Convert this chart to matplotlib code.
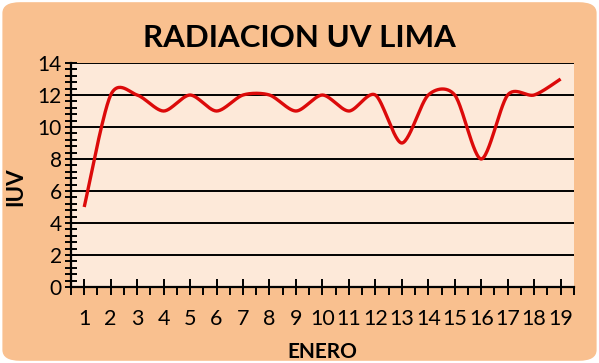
import matplotlib
matplotlib.use("Agg")
import matplotlib.pyplot as plt
import numpy as np
from matplotlib.patches import FancyBboxPatch
from matplotlib.ticker import MultipleLocator

days = list(range(1, 20))
uv_index = [5, 12, 12, 11, 12, 11, 12, 12, 11, 12, 11, 12, 9, 12, 12, 8, 12, 12, 13]
y_ticks = [0, 2, 4, 6, 8, 10, 12, 14]

OUTER = "#F9C08F"
INNER = "#FDE9D9"
LINE = "#DC0A0A"
FONT = "Lato"


def smooth(x, y, n=30, k=7.0):
    # Excel-style smoothed line: cubic Bezier with Catmull-Rom-like tangents
    x = np.asarray(x, float)
    y = np.asarray(y, float)
    xs, ys = [], []
    for i in range(len(x) - 1):
        p0 = np.array([x[max(i - 1, 0)], y[max(i - 1, 0)]])
        p1 = np.array([x[i], y[i]])
        p2 = np.array([x[i + 1], y[i + 1]])
        p3 = np.array([x[min(i + 2, len(x) - 1)], y[min(i + 2, len(x) - 1)]])
        c1 = p1 + (p2 - p0) / k
        c2 = p2 - (p3 - p1) / k
        t = np.linspace(0, 1, n)[:, None]
        pts = ((1 - t) ** 3) * p1 + 3 * ((1 - t) ** 2) * t * c1 \
            + 3 * (1 - t) * t ** 2 * c2 + t ** 3 * p2
        xs.extend(pts[:, 0])
        ys.extend(pts[:, 1])
    return np.array(xs), np.array(ys)


fig = plt.figure(figsize=(5.99, 3.63), dpi=100)
fig.patch.set_facecolor("white")
fig.patches.append(FancyBboxPatch(
    (0.004, 0.006), 0.992, 0.988, boxstyle="round,pad=0,rounding_size=0.03",
    transform=fig.transFigure, facecolor=OUTER, edgecolor="none", zorder=-1))

ax = fig.add_axes([0.1185, 0.2094, 0.8395, 0.617])
ax.set_facecolor(INNER)

sx, sy = smooth(days, uv_index)
ax.plot(sx, sy, color=LINE, lw=2.4, solid_capstyle="butt", zorder=3)

ax.set_xlim(0.5, 19.5)
ax.set_ylim(0, 14)
ax.set_yticks(y_ticks)
ax.yaxis.set_minor_locator(MultipleLocator(0.4))
ax.set_xticks(days)
ax.set_xticks(np.arange(0.5, 20, 1), minor=True)
ax.grid(axis="y", which="major", color="black", lw=1.4, zorder=1)

for side in ("top", "right"):
    ax.spines[side].set_visible(False)
for side in ("left", "bottom"):
    ax.spines[side].set_linewidth(1.6)

ax.tick_params(axis="y", which="major", direction="inout", length=9, width=1.4,
               labelsize=15, pad=2)
ax.tick_params(axis="y", which="minor", direction="inout", length=9, width=1.4)
ax.tick_params(axis="x", which="major", direction="inout", length=12, width=1.4,
               labelsize=15.5, pad=10)
ax.tick_params(axis="x", which="minor", direction="out", length=6, width=1.4)
for lab in ax.get_xticklabels() + ax.get_yticklabels():
    lab.set_fontfamily(FONT)

ax.set_ylabel("IUV", fontsize=16, fontweight="bold", family=FONT, labelpad=0)
ax.set_xlabel("ENERO", fontsize=15, fontweight="bold", family=FONT, labelpad=-2)
ax.xaxis.set_label_coords(0.5, -0.245)
ax.yaxis.set_label_coords(-0.088, 0.45)

fig.text(0.5, 0.895, "RADIACION UV LIMA", ha="center", va="center",
         fontsize=22.5, fontweight="bold", family=FONT)

fig.savefig("out.png", dpi=100, facecolor=fig.get_facecolor())
